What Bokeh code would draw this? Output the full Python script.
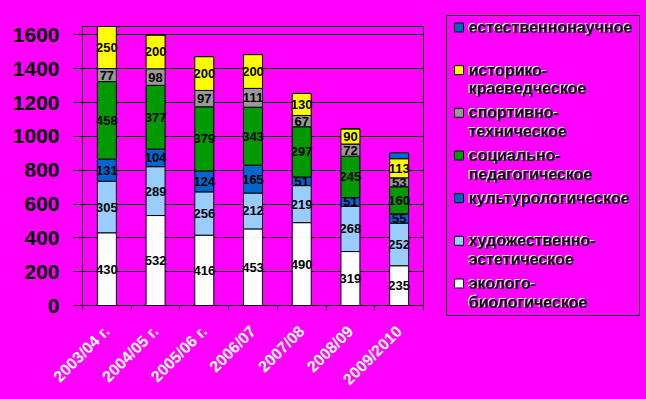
from math import pi
from bokeh.plotting import figure
from bokeh.layouts import row, column
from bokeh.models import FixedTicker, ColumnDataSource, Range1d
from bokeh.embed import file_html
from bokeh.resources import INLINE
from bokeh.core.properties import value

years = ["2003/04 г.", "2004/05 г.", "2005/06 г.", "2006/07", "2007/08", "2008/09", "2009/2010"]
eco = [430, 532, 416, 453, 490, 319, 235]
art = [305, 289, 256, 212, 219, 268, 252]
cult = [131, 104, 124, 165, 51, 51, 55]
soc = [458, 377, 379, 343, 297, 245, 160]
sport = [77, 98, 97, 111, 67, 72, 53]
hist = [250, 200, 200, 200, 130, 90, 113]
nat = [0, 0, 0, 0, 0, 0, 35]

keys = ["eco", "art", "cult", "soc", "sport", "hist", "nat"]
names = [["эколого-", "биологическое"], ["художественно-", "эстетическое"], ["культурологическое"],
         ["социально-", "педагогическое"], ["спортивно-", "техническое"],
         ["историко-", "краеведческое"], ["естественнонаучное"]]
colors = ["#FFFFFF", "#99CCFF", "#0066CC", "#009900", "#999999", "#FFFF00", "#0066CC"]
y_ticks = [0, 200, 400, 600, 800, 1000, 1200, 1400, 1600]

FONT = "Liberation Sans"
BG = "#FF00FF"

xs = list(range(1, len(years) + 1))
data = dict(x=xs, eco=eco, art=art, cult=cult, soc=soc, sport=sport, hist=hist, nat=nat)
src = ColumnDataSource(data)

p = figure(width=424, height=399, x_range=Range1d(0.5, 7.5), y_range=Range1d(0, 1650),
           output_backend="svg", toolbar_location=None,
           min_border_left=82, min_border_right=1, min_border_top=26, min_border_bottom=94,
           background_fill_color=BG, border_fill_color=BG, outline_line_color="black")

rs = p.vbar_stack(keys, x="x", width=0.39, fill_color=colors, line_color="black",
                  line_width=1, source=src)

# data labels
lx, ly, lt = [], [], []
series = [eco, art, cult, soc, sport, hist]
bottoms = [0] * len(years)
for s in series:
    for i, v in enumerate(s):
        lx.append(xs[i]); ly.append(bottoms[i] + v / 2); lt.append(str(v))
        bottoms[i] += v
lsrc = ColumnDataSource(dict(x=lx, y=ly, t=lt))
p.text("x", "y", text="t", source=lsrc, text_color="black",
       text_align="center", text_baseline="middle", text_font=value(FONT),
       text_font_style="bold", text_font_size="13px")

# axes
p.xaxis.ticker = FixedTicker(ticks=xs, minor_ticks=[x - 0.5 for x in xs] + [xs[-1] + 0.5])
p.xaxis.major_label_overrides = {x: y for x, y in zip(xs, years)}
p.xaxis.major_tick_out = 0
p.xaxis.major_tick_in = 0
p.xaxis.minor_tick_out = 5
p.xaxis.minor_tick_in = 0
p.xaxis.major_label_standoff = 18
p.xaxis.major_label_orientation = pi / 4
p.xaxis.major_label_text_color = "white"
p.xaxis.major_label_text_font = FONT
p.xaxis.major_label_text_font_style = "bold"
p.xaxis.major_label_text_font_size = "16px"
p.xaxis.axis_line_color = "black"
p.xgrid.grid_line_color = None

p.yaxis.ticker = FixedTicker(ticks=y_ticks)
p.yaxis.major_tick_out = 9
p.yaxis.major_tick_in = 0
p.yaxis.minor_tick_line_color = None
p.yaxis.major_label_standoff = 14
p.yaxis.major_label_text_color = "black"
p.yaxis.major_label_text_font = FONT
p.yaxis.major_label_text_font_style = "bold"
p.yaxis.major_label_text_font_size = "21px"
p.yaxis.axis_line_color = "black"
p.ygrid.grid_line_color = "black"
p.ygrid.ticker = FixedTicker(ticks=y_ticks)

# legend panel: separate figure in pixel-like coordinates (y downwards)
LW, LH = 222, 399
lp = figure(width=LW, height=LH, x_range=Range1d(0, LW), y_range=Range1d(LH, 0),
            output_backend="svg", toolbar_location=None,
            min_border_left=0, min_border_right=0, min_border_top=0, min_border_bottom=0,
            background_fill_color=BG, border_fill_color=BG, outline_line_color=None)
lp.xaxis.visible = False
lp.yaxis.visible = False
lp.grid.visible = False

box_l, box_r, box_t, box_b = 22, 215, 15, 315
lp.quad(left=[box_l], right=[box_r], top=[box_t], bottom=[box_b], fill_color=None,
        line_color="black", line_width=1)
first_y, step, line_h = 27, (283 - 27) / 6, 18.5
sw_x, sw_size, txt_x = 34.5, 9, 44
order = list(reversed(range(len(keys))))
sx, sy, sc, tx, ty, tt = [], [], [], [], [], []
for k, idx in enumerate(order):
    yc = first_y + k * step
    sx.append(sw_x); sy.append(yc); sc.append(colors[idx])
    for j, line in enumerate(names[idx]):
        tx.append(txt_x); ty.append(yc + j * line_h); tt.append(line)
lp.rect(x=sx, y=sy, width=sw_size, height=sw_size, fill_color=sc, line_color="black",
        line_width=1, width_units="screen", height_units="screen")
lp.text(x=tx, y=ty, text=tt, text_color="white", x_offset=-1, y_offset=-1,
        text_align="left", text_baseline="middle", text_font=value(FONT),
        text_font_style="bold", text_font_size="16px")
lp.text(x=tx, y=ty, text=tt, text_color="black",
        text_align="left", text_baseline="middle", text_font=value(FONT),
        text_font_style="bold", text_font_size="16px")

layout = row(p, column(lp, spacing=0), spacing=0)
html = file_html(layout, INLINE)
html = html.replace("<head>", "<head><style>html,body{background:#FF00FF;}</style>", 1)
open("out.html", "w").write(html)
